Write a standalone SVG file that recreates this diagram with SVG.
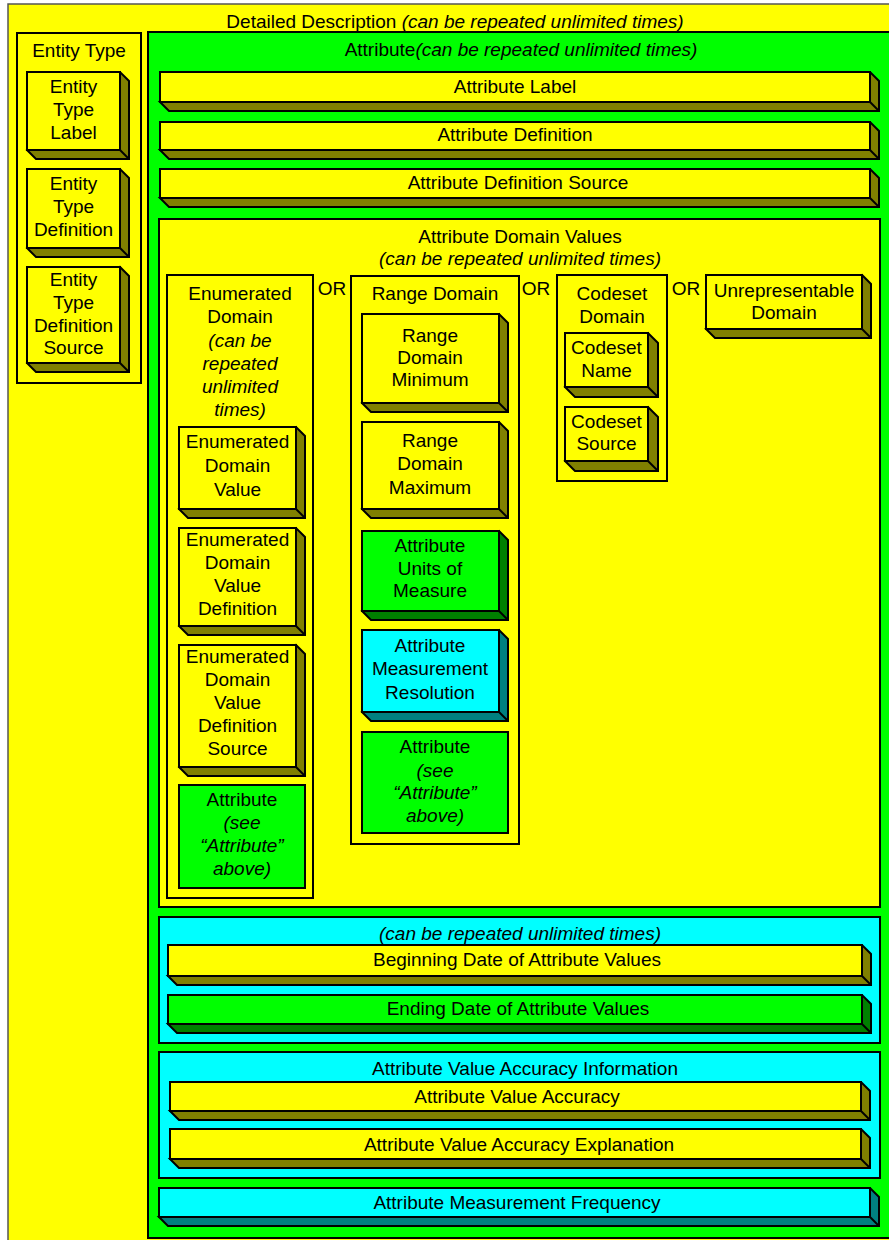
<svg xmlns="http://www.w3.org/2000/svg" width="889" height="1240" viewBox="0 0 889 1240">
<style>
rect,path{stroke:#000;stroke-width:2;stroke-linejoin:miter}
.y{fill:#ffff00}.g{fill:#00ff00}.c{fill:#00ffff}
.ys{fill:#808000}.gs{fill:#008000}.cs{fill:#008080}
.ln{fill:none}
text{font-family:"Liberation Sans",Arial,sans-serif;font-size:19px;fill:#000;text-anchor:middle}
.i{font-style:italic}
</style>
<rect x="0" y="0" width="889" height="1240" fill="#ffffff" style="stroke:none"/>
<g id="detailed-description">
<rect class="y" x="8" y="4" width="900" height="1250" style="stroke:#555;stroke-width:1.5"/>
<text x="455" y="28">Detailed Description  <tspan class="i">(can be repeated unlimited times)</tspan></text>
</g>
<g id="entity-type">
<rect class="y" x="17" y="33" width="124" height="350"/>
<text x="79" y="57">Entity Type</text>
</g>
<g id="entity-type-label">
<path class="ys" d="M27,150 L36,159 L129,159 L129,81 L120,72 Z"/><path class="ln" d="M120,150 L129,159"/>
<rect class="y" x="27" y="72" width="93" height="78"/>
<text x="73.5" y="93">Entity</text><text x="73.5" y="116">Type</text><text x="73.5" y="139">Label</text>
</g>
<g id="entity-type-definition">
<path class="ys" d="M27,248 L36,257 L129,257 L129,178 L120,169 Z"/><path class="ln" d="M120,248 L129,257"/>
<rect class="y" x="27" y="169" width="93" height="79"/>
<text x="73.5" y="190">Entity</text><text x="73.5" y="213">Type</text><text x="73.5" y="236">Definition</text>
</g>
<g id="entity-type-definition-source">
<path class="ys" d="M27,363 L36,372 L129,372 L129,276 L120,267 Z"/><path class="ln" d="M120,363 L129,372"/>
<rect class="y" x="27" y="267" width="93" height="96"/>
<text x="73.5" y="286">Entity</text><text x="73.5" y="309">Type</text><text x="73.5" y="332">Definition</text><text x="73.5" y="354">Source</text>
</g>
<g id="attribute">
<rect class="g" x="148" y="32" width="760" height="1206"/>
<text x="521" y="56">Attribute<tspan class="i">(can be repeated unlimited times)</tspan></text>
</g>
<g id="attribute-label">
<path class="ys" d="M160,102 L169,111 L879,111 L879,81 L870,72 Z"/><path class="ln" d="M870,102 L879,111"/>
<rect class="y" x="160" y="72" width="710" height="30"/>
<text x="515" y="93">Attribute Label</text>
</g>
<g id="attribute-definition">
<path class="ys" d="M160,150 L169,159 L879,159 L879,131 L870,122 Z"/><path class="ln" d="M870,150 L879,159"/>
<rect class="y" x="160" y="122" width="710" height="28"/>
<text x="515" y="141">Attribute Definition</text>
</g>
<g id="attribute-definition-source">
<path class="ys" d="M160,198 L169,207 L879,207 L879,178 L870,169 Z"/><path class="ln" d="M870,198 L879,207"/>
<rect class="y" x="160" y="169" width="710" height="29"/>
<text x="518" y="189">Attribute Definition Source</text>
</g>
<g id="attribute-domain-values">
<rect class="y" x="159" y="219" width="721" height="688"/>
<text x="520" y="243">Attribute Domain Values</text>
<text class="i" x="520" y="265">(can be repeated unlimited times)</text>
<text x="332" y="295">OR</text><text x="536" y="295">OR</text><text x="686" y="295">OR</text>
</g>
<g id="enumerated-domain">
<rect class="y" x="167" y="275" width="146" height="623"/>
<text x="240" y="300">Enumerated</text><text x="240" y="323">Domain</text>
<text class="i" x="240" y="347">(can be</text><text class="i" x="240" y="370">repeated</text><text class="i" x="240" y="393">unlimited</text><text class="i" x="240" y="416">times)</text>
</g>
<g id="enumerated-domain-value">
<path class="ys" d="M179,509 L188,518 L305,518 L305,436 L296,427 Z"/><path class="ln" d="M296,509 L305,518"/>
<rect class="y" x="179" y="427" width="117" height="82"/>
<text x="237.5" y="448">Enumerated</text><text x="237.5" y="472">Domain</text><text x="237.5" y="496">Value</text>
</g>
<g id="enumerated-domain-value-definition">
<path class="ys" d="M179,626 L188,635 L305,635 L305,537 L296,528 Z"/><path class="ln" d="M296,626 L305,635"/>
<rect class="y" x="179" y="528" width="117" height="98"/>
<text x="237.5" y="546">Enumerated</text><text x="237.5" y="569">Domain</text><text x="237.5" y="592">Value</text><text x="237.5" y="615">Definition</text>
</g>
<g id="enumerated-domain-value-definition-source">
<path class="ys" d="M179,767 L188,776 L305,776 L305,654 L296,645 Z"/><path class="ln" d="M296,767 L305,776"/>
<rect class="y" x="179" y="645" width="117" height="122"/>
<text x="237.5" y="663">Enumerated</text><text x="237.5" y="686">Domain</text><text x="237.5" y="709">Value</text><text x="237.5" y="732">Definition</text><text x="237.5" y="755">Source</text>
</g>
<g id="enumerated-attribute">
<rect class="g" x="179" y="785" width="126" height="103"/>
<text x="242" y="806">Attribute</text><text class="i" x="242" y="829">(see</text><text class="i" x="242" y="852">“Attribute”</text><text class="i" x="242" y="875">above)</text>
</g>
<g id="range-domain">
<rect class="y" x="351" y="276" width="168" height="568"/>
<text x="435" y="300">Range Domain</text>
</g>
<g id="range-domain-minimum">
<path class="ys" d="M362,403 L371,412 L508,412 L508,323 L499,314 Z"/><path class="ln" d="M499,403 L508,412"/>
<rect class="y" x="362" y="314" width="137" height="89"/>
<text x="430" y="342">Range</text><text x="430" y="364">Domain</text><text x="430" y="386">Minimum</text>
</g>
<g id="range-domain-maximum">
<path class="ys" d="M362,509 L371,518 L508,518 L508,431 L499,422 Z"/><path class="ln" d="M499,509 L508,518"/>
<rect class="y" x="362" y="422" width="137" height="87"/>
<text x="430" y="447">Range</text><text x="430" y="470">Domain</text><text x="430" y="494">Maximum</text>
</g>
<g id="attribute-units-of-measure">
<path class="gs" d="M362,611 L371,620 L508,620 L508,540 L499,531 Z"/><path class="ln" d="M499,611 L508,620"/>
<rect class="g" x="362" y="531" width="137" height="80"/>
<text x="430" y="552">Attribute</text><text x="430" y="575">Units of</text><text x="430" y="597">Measure</text>
</g>
<g id="attribute-measurement-resolution">
<path class="cs" d="M362,712 L371,721 L508,721 L508,639 L499,630 Z"/><path class="ln" d="M499,712 L508,721"/>
<rect class="c" x="362" y="630" width="137" height="82"/>
<text x="430" y="652">Attribute</text><text x="430" y="675">Measurement</text><text x="430" y="699">Resolution</text>
</g>
<g id="range-attribute">
<rect class="g" x="362" y="732" width="146" height="101"/>
<text x="435" y="753">Attribute</text><text class="i" x="435" y="777">(see</text><text class="i" x="435" y="799">“Attribute”</text><text class="i" x="435" y="822">above)</text>
</g>
<g id="codeset-domain">
<rect class="y" x="557" y="275" width="110" height="206"/>
<text x="612" y="300">Codeset</text><text x="612" y="323">Domain</text>
</g>
<g id="codeset-name">
<path class="ys" d="M565,387 L575,397 L658,397 L658,343 L648,333 Z"/><path class="ln" d="M648,387 L658,397"/>
<rect class="y" x="565" y="333" width="83" height="54"/>
<text x="606.5" y="354">Codeset</text><text x="606.5" y="377">Name</text>
</g>
<g id="codeset-source">
<path class="ys" d="M565,461 L575,471 L658,471 L658,417 L648,407 Z"/><path class="ln" d="M648,461 L658,471"/>
<rect class="y" x="565" y="407" width="83" height="54"/>
<text x="606.5" y="428">Codeset</text><text x="606.5" y="450">Source</text>
</g>
<g id="unrepresentable-domain">
<path class="ys" d="M706,329 L715,338 L871,338 L871,284 L862,275 Z"/><path class="ln" d="M862,329 L871,338"/>
<rect class="y" x="706" y="275" width="156" height="54"/>
<text x="784" y="297">Unrepresentable</text><text x="784" y="319">Domain</text>
</g>
<g id="attribute-values-dates">
<rect class="c" x="159" y="917" width="721" height="126"/>
<text class="i" x="520" y="940">(can be repeated unlimited times)</text>
</g>
<g id="beginning-date">
<path class="ys" d="M168,976 L177,985 L871,985 L871,954 L862,945 Z"/><path class="ln" d="M862,976 L871,985"/>
<rect class="y" x="168" y="945" width="694" height="31"/>
<text x="517" y="966">Beginning Date of Attribute Values</text>
</g>
<g id="ending-date">
<path class="gs" d="M168,1024 L177,1033 L871,1033 L871,1004 L862,995 Z"/><path class="ln" d="M862,1024 L871,1033"/>
<rect class="g" x="168" y="995" width="694" height="29"/>
<text x="518" y="1015">Ending Date of Attribute Values</text>
</g>
<g id="attribute-value-accuracy-information">
<rect class="c" x="159" y="1052" width="721" height="126"/>
<text x="525" y="1075">Attribute Value Accuracy Information</text>
</g>
<g id="attribute-value-accuracy">
<path class="ys" d="M170,1111 L179,1120 L870,1120 L870,1091 L861,1082 Z"/><path class="ln" d="M861,1111 L870,1120"/>
<rect class="y" x="170" y="1082" width="691" height="29"/>
<text x="517" y="1103">Attribute Value Accuracy</text>
</g>
<g id="attribute-value-accuracy-explanation">
<path class="ys" d="M170,1159 L179,1168 L870,1168 L870,1138 L861,1129 Z"/><path class="ln" d="M861,1159 L870,1168"/>
<rect class="y" x="170" y="1129" width="691" height="30"/>
<text x="519" y="1151">Attribute Value Accuracy Explanation</text>
</g>
<g id="attribute-measurement-frequency">
<path class="cs" d="M159,1217 L168,1226 L879,1226 L879,1197 L870,1188 Z"/><path class="ln" d="M870,1217 L879,1226"/>
<rect class="c" x="159" y="1188" width="711" height="29"/>
<text x="517" y="1209">Attribute Measurement Frequency</text>
</g>
<g id="connectors"/>
</svg>
